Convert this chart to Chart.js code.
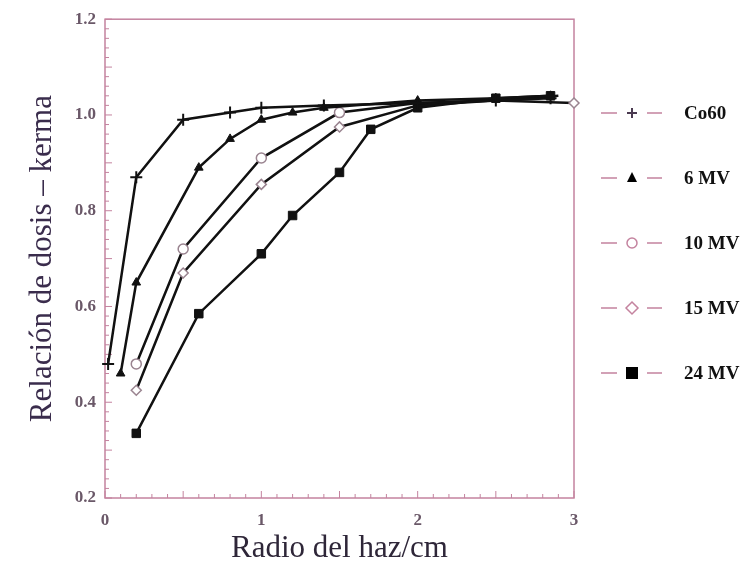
<!DOCTYPE html>
<html>
<head>
<meta charset="utf-8">
<script src="https://cdn.jsdelivr.net/npm/chart.js@4/dist/chart.umd.min.js"></script>
<style>
  html, body { margin: 0; padding: 0; background: #fff; }
  #wrap { width: 746px; height: 564px; }
</style>
</head>
<body>
<div id="wrap"><canvas id="chart" width="746" height="564"></canvas></div>
<script>
// series names (legend) and values
const seriesNames = ["Co60", "6 MV", "10 MV", "15 MV", "24 MV"];

const radioCo60 = [0.02, 0.2, 0.5, 0.8, 1.0, 1.4, 2.0, 2.5, 2.85];
const relCo60   = [0.48, 0.87, 0.99, 1.005, 1.015, 1.02, 1.025, 1.03, 1.035];

const radio6MV = [0.1, 0.2, 0.6, 0.8, 1.0, 1.2, 1.4, 2.0, 2.5, 2.85];
const rel6MV   = [0.46, 0.65, 0.89, 0.95, 0.99, 1.005, 1.015, 1.03, 1.035, 1.04];

const radio10MV = [0.2, 0.5, 1.0, 1.5, 2.0, 2.5, 2.9];
const rel10MV   = [0.48, 0.72, 0.91, 1.005, 1.025, 1.03, 1.04];

const radio15MV = [0.2, 0.5, 1.0, 1.5, 2.0, 2.5, 3.0];
const rel15MV   = [0.425, 0.67, 0.855, 0.975, 1.02, 1.03, 1.025];

const radio24MV = [0.2, 0.6, 1.0, 1.2, 1.5, 1.7, 2.0, 2.5, 2.85];
const rel24MV   = [0.335, 0.585, 0.71, 0.79, 0.88, 0.97, 1.015, 1.035, 1.04];

const xTickLabels = ["0", "1", "2", "3"];
const yTickLabels = ["0.2", "0.4", "0.6", "0.8", "1.0", "1.2"];

const axisColor = "#c4839f";
const tickColor = "#6a5868";
const lineColor = "#111111";
const openColor = "#9a8490";

const toPoints = (xs, ys) => xs.map((x, i) => ({ x: x, y: ys[i] }));

// open markers vanish inside the black bundle on the right
const hideInBundle = (r) => (ctx) => {
  const p = ctx.raw;
  if (p && p.x > 1.6 && p.x < 3) return 0;
  return r;
};

const seriesStyle = [
  { pointStyle: "cross", radius: 6, bg: lineColor, border: lineColor, bw: 2, legendColor: "#4a3a50" },
  { pointStyle: "triangle", radius: 5, bg: lineColor, border: lineColor, bw: 1, legendColor: "#000" },
  { pointStyle: "circle", radius: 5, bg: "#fff", border: openColor, bw: 1.5, legendColor: axisColor, open: true },
  { pointStyle: "rectRot", radius: 5, bg: "#fff", border: openColor, bw: 1.5, legendColor: axisColor, open: true },
  { pointStyle: "rect", radius: 6, bg: lineColor, border: lineColor, bw: 1, legendColor: "#000" },
];

const allData = [
  toPoints(radioCo60, relCo60),
  toPoints(radio6MV, rel6MV),
  toPoints(radio10MV, rel10MV),
  toPoints(radio15MV, rel15MV),
  toPoints(radio24MV, rel24MV),
];

const datasets = allData.map((pts, i) => {
  const s = seriesStyle[i];
  return {
    label: seriesNames[i],
    data: pts,
    borderColor: lineColor,
    borderWidth: 2.5,
    tension: 0,
    clip: 10,
    pointStyle: s.pointStyle,
    pointRadius: s.open ? hideInBundle(s.radius) : s.radius,
    pointBackgroundColor: s.bg,
    pointBorderColor: s.border,
    pointBorderWidth: s.bw,
  };
});

// box, inward minor ticks
const framePlugin = {
  id: "frame",
  beforeDatasetsDraw(chart) {
    const { ctx, chartArea: a, scales } = chart;
    ctx.save();
    ctx.strokeStyle = axisColor;
    ctx.lineWidth = 1.5;
    ctx.strokeRect(a.left, a.top, a.right - a.left, a.bottom - a.top);
    ctx.lineWidth = 1;
    ctx.beginPath();
    for (let i = 0; i <= 30; i++) {
      const px = scales.x.getPixelForValue(i / 10);
      const len = i % 5 === 0 ? 7 : 4;
      ctx.moveTo(px, a.bottom);
      ctx.lineTo(px, a.bottom - len);
    }
    for (let i = 0; i <= 50; i++) {
      const py = scales.y.getPixelForValue(0.2 + i * 0.02);
      const len = i % 5 === 0 ? 7 : 4;
      ctx.moveTo(a.left, py);
      ctx.lineTo(a.left + len, py);
    }
    ctx.stroke();
    ctx.restore();
  },
};

const drawMarker = (ctx, style, x, y) => {
  ctx.fillStyle = style.open ? "#fff" : style.legendColor;
  ctx.strokeStyle = style.legendColor;
  ctx.lineWidth = style.bw;
  ctx.beginPath();
  switch (style.pointStyle) {
    case "cross":
      ctx.moveTo(x - 5, y); ctx.lineTo(x + 5, y);
      ctx.moveTo(x, y - 5); ctx.lineTo(x, y + 5);
      ctx.stroke();
      return;
    case "triangle":
      ctx.moveTo(x, y - 6); ctx.lineTo(x + 5, y + 4); ctx.lineTo(x - 5, y + 4);
      break;
    case "circle":
      ctx.arc(x, y, 5, 0, Math.PI * 2);
      break;
    case "rectRot":
      ctx.moveTo(x, y - 6); ctx.lineTo(x + 6, y); ctx.lineTo(x, y + 6); ctx.lineTo(x - 6, y);
      break;
    case "rect":
      ctx.rect(x - 6, y - 6, 12, 12);
      break;
  }
  ctx.closePath();
  ctx.fill();
  if (style.open) ctx.stroke();
};

// legend drawn at the right like the original
const legendPlugin = {
  id: "sideLegend",
  afterDraw(chart) {
    const { ctx } = chart;
    ctx.save();
    seriesNames.forEach((name, i) => {
      const s = seriesStyle[i];
      const y = 113 + i * 65;
      ctx.strokeStyle = axisColor;
      ctx.lineWidth = 1.5;
      ctx.beginPath();
      ctx.moveTo(601, y);
      ctx.lineTo(617, y);
      ctx.moveTo(647, y);
      ctx.lineTo(662, y);
      ctx.stroke();
      drawMarker(ctx, s, 632, y);
      ctx.fillStyle = "#111";
      ctx.font = "bold 19px 'Liberation Serif'";
      ctx.textBaseline = "middle";
      ctx.fillText(name, 684, y + 1);
    });
    ctx.restore();
  },
};

const serif = "'Liberation Serif', 'DejaVu Serif', serif";

new Chart(document.getElementById("chart"), {
  type: "line",
  data: { datasets: datasets },
  options: {
    responsive: false,
    devicePixelRatio: 1,
    animation: false,
    layout: { padding: { left: 0, right: 172, top: 17, bottom: 0 } },
    plugins: { legend: { display: false }, tooltip: { enabled: false } },
    scales: {
      x: {
        type: "linear",
        min: 0,
        max: 3,
        grid: { display: false, drawTicks: false },
        border: { display: false },
        ticks: {
          stepSize: 1,
          padding: 12,
          color: tickColor,
          font: { family: serif, size: 17, weight: "bold" },
          callback: (v) => xTickLabels[Math.round(v)],
        },
        title: {
          display: true,
          text: "Radio del haz/cm",
          color: "#2e2638",
          font: { family: serif, size: 31, lineHeight: 1.0 },
          padding: { top: 0, bottom: 0 },
        },
        afterFit: (s) => { s.height = 66; },
      },
      y: {
        type: "linear",
        min: 0.2,
        max: 1.2,
        grid: { display: false, drawTicks: false },
        border: { display: false },
        ticks: {
          stepSize: 0.2,
          padding: 9,
          color: tickColor,
          font: { family: serif, size: 17, weight: "bold" },
          callback: (v) => yTickLabels[Math.round((v - 0.2) / 0.2)],
        },
        title: {
          display: true,
          text: "Relación de dosis – kerma",
          color: "#3a2c4c",
          font: { family: serif, size: 31, lineHeight: 1.0 },
          padding: { top: 27, bottom: 0 },
        },
        afterFit: (s) => { s.width = 105; },
      },
    },
  },
  plugins: [framePlugin, legendPlugin],
});
</script>
</body>
</html>
